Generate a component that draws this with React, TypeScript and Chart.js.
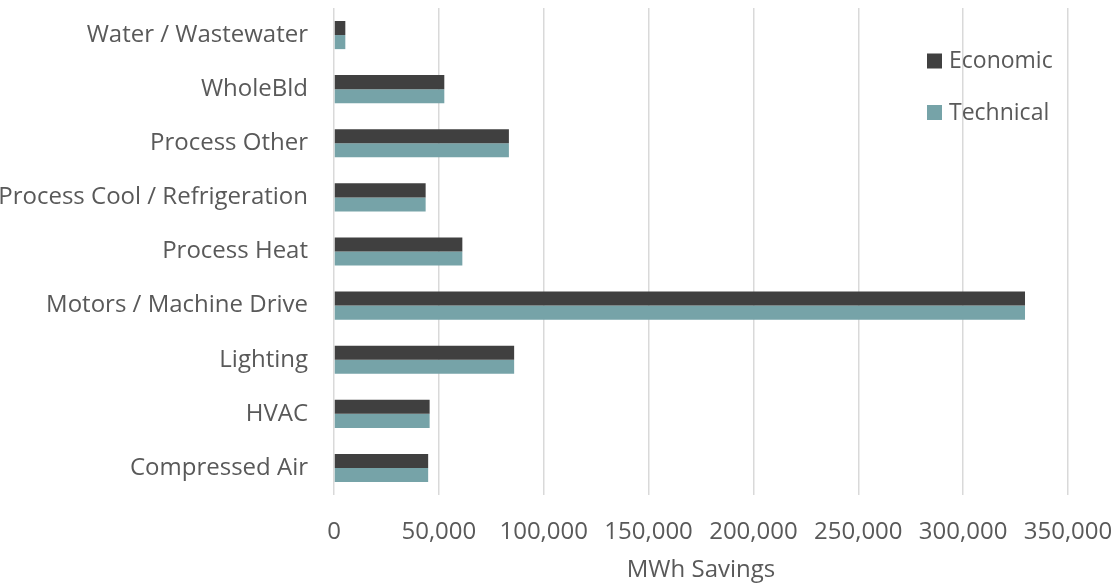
import React, { useEffect, useRef } from "react";
import { Chart, registerables } from "chart.js";

Chart.register(...registerables);

const categories = [
  "Water / Wastewater",
  "WholeBld",
  "Process Other",
  "Process Cool / Refrigeration",
  "Process Heat",
  "Motors / Machine Drive",
  "Lighting",
  "HVAC",
  "Compressed Air",
];
const economic = [5400, 52600, 83400, 43700, 61200, 329500, 85900, 45600, 44900];
const technical = [5400, 52600, 83400, 43700, 61200, 329500, 85900, 45600, 44900];
const seriesLabels = ["Economic", "Technical"];
const seriesColors = ["#404040", "#76A3A8"];
const axisTitle = "MWh Savings";

const FONT = "'Open Sans', sans-serif";
const TEXT = "#595959";

const legendPlugin = {
  id: "insideLegend",
  afterDraw(chart: any) {
    const ctx = chart.ctx;
    ctx.save();
    ctx.font = `23px ${FONT}`;
    ctx.textBaseline = "middle";
    ctx.textAlign = "left";
    const ys = [60.5, 112];
    chart.data.datasets.forEach((ds: any, i: number) => {
      const y = ys[i];
      ctx.fillStyle = ds.backgroundColor;
      ctx.fillRect(927, y - 7, 15, 15);
      ctx.fillStyle = TEXT;
      ctx.fillText(ds.label, 949, y + 1);
    });
    ctx.restore();
  },
};

export default function App() {
  const ref = useRef<HTMLCanvasElement | null>(null);
  useEffect(() => {
    document.body.style.margin = "0";
    const canvas = ref.current!;
    const chart = new Chart(canvas, {
      type: "bar",
      data: {
        labels: categories,
        datasets: [
          { label: seriesLabels[0], data: economic, backgroundColor: seriesColors[0] },
          { label: seriesLabels[1], data: technical, backgroundColor: seriesColors[1] },
        ],
      },
      options: {
        indexAxis: "y",
        animation: false,
        responsive: false,
        devicePixelRatio: 1,
        layout: { padding: { top: 8, right: 49, left: 0, bottom: 0 } },
        datasets: {
          bar: { categoryPercentage: 0.52, barPercentage: 1 },
        },
        plugins: {
          legend: { display: false },
          tooltip: { enabled: false },
        },
        scales: {
          x: {
            min: 0,
            max: 350000,
            ticks: {
              stepSize: 50000,
              color: TEXT,
              font: { family: FONT, size: 24 },
              padding: 23,
              maxRotation: 0,
              callback: (v: any) => Number(v).toLocaleString("en-US"),
            },
            grid: { color: "#d9d9d9", lineWidth: 1.5, drawTicks: false },
            border: { display: false },
            title: {
              display: true,
              text: axisTitle,
              color: TEXT,
              font: { family: FONT, size: 24 },
              padding: { top: 5, bottom: 0 },
            },
            afterFit: (s: any) => {
              s.height = 90;
              s.paddingLeft = 0;
              s.paddingRight = 0;
            },
          },
          y: {
            ticks: {
              color: TEXT,
              font: { family: FONT, size: 24 },
              padding: 26,
            },
            grid: { display: false, drawTicks: false },
            border: { display: false },
            afterFit: (s: any) => {
              s.width = 334;
              s.paddingTop = 0;
              s.paddingBottom = 0;
            },
          },
        },
      },
      plugins: [legendPlugin],
    });
    return () => chart.destroy();
  }, []);
  return <canvas ref={ref} width={1117} height={585} style={{ display: "block" }} />;
}
